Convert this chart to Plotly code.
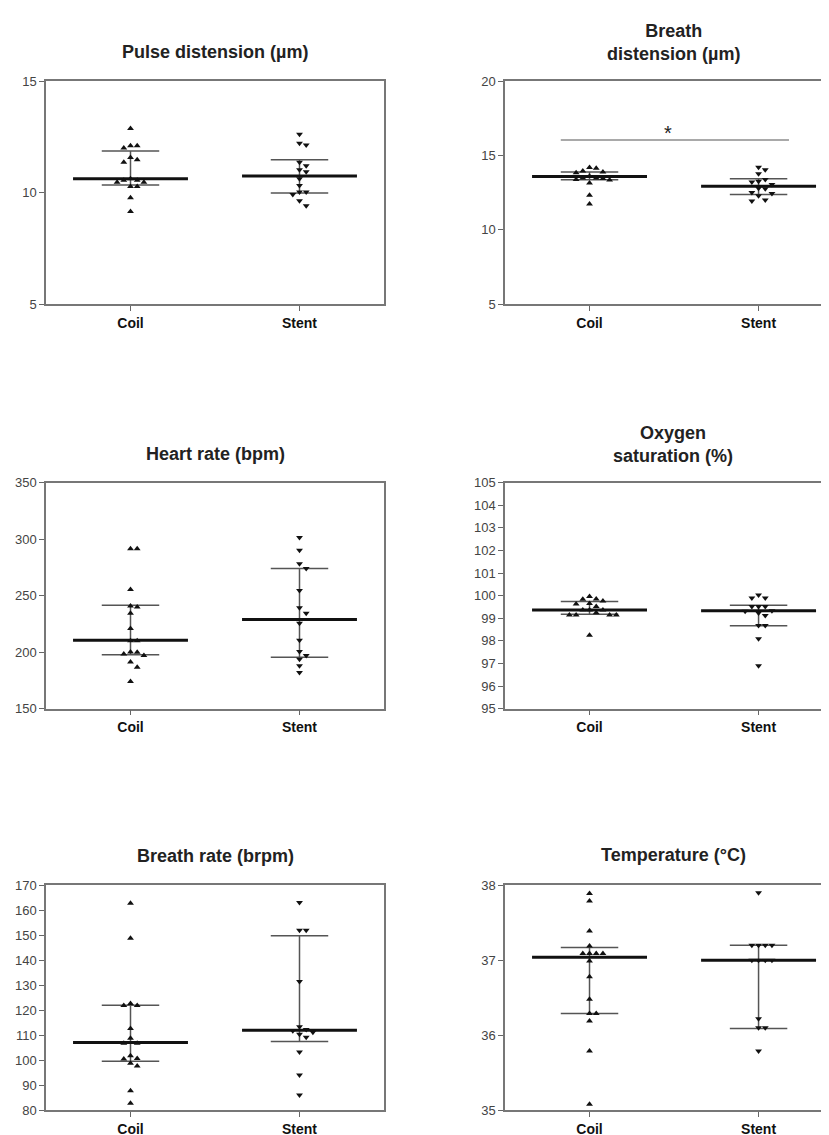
import plotly.graph_objects as go

# ---------------- data ----------------
categories = ["Coil", "Stent"]

titles = ["Pulse distension (µm)", "Breath<br>distension (µm)", "Heart rate (bpm)",
          "Oxygen<br>saturation (%)", "Breath rate (brpm)", "Temperature (°C)"]

pulse_coil = [12.88, 12.1, 12.1, 12.0, 11.58, 11.47, 11.36, 10.62, 10.56, 10.56, 10.47, 10.47, 10.27, 10.27, 9.77, 9.15]
pulse_stent = [12.62, 12.21, 12.14, 11.36, 11.21, 11.03, 10.94, 10.62, 10.32, 10.03, 10.03, 9.91, 9.63, 9.41]
pulse_median = [10.62, 10.75]
pulse_q1 = [10.34, 9.98]
pulse_q3 = [11.87, 11.47]

bdist_coil = [14.19, 14.14, 13.96, 13.88, 13.83, 13.6, 13.48, 13.48, 13.45, 13.39, 13.35, 13.15, 12.33, 11.74]
bdist_stent = [14.21, 14.03, 13.77, 13.39, 13.26, 13.22, 13.04, 12.8, 12.76, 12.51, 12.44, 12.29, 12.0, 11.94]
bdist_median = [13.59, 12.93]
bdist_q1 = [13.37, 12.38]
bdist_q3 = [13.88, 13.44]

heart_coil = [291.6, 291.6, 255.6, 240.9, 240.0, 234.5, 221.0, 210.1, 210.1, 200.1, 199.9, 198.4, 197.1, 191.3, 186.7, 174.0]
heart_stent = [301.6, 290.2, 278.4, 274.0, 254.7, 239.4, 234.5, 225.7, 210.7, 200.7, 197.2, 193.7, 188.1, 182.0]
heart_median = [210.7, 228.9]
heart_q1 = [197.8, 195.5]
heart_q3 = [241.5, 274.0]

oxy_coil = [99.97, 99.85, 99.84, 99.77, 99.66, 99.63, 99.52, 99.37, 99.37, 99.37, 99.25, 99.15, 99.15, 99.15, 99.15, 98.25]
oxy_stent = [100.03, 99.9, 99.9, 99.52, 99.52, 99.52, 99.34, 99.31, 99.24, 99.12, 98.68, 98.68, 98.1, 96.9]
oxy_median = [99.37, 99.33]
oxy_q1 = [99.18, 98.67]
oxy_q3 = [99.75, 99.58]

brate_coil = [162.8, 148.8, 122.7, 121.9, 121.9, 112.7, 108.8, 106.8, 106.8, 101.8, 100.7, 100.5, 98.8, 97.7, 87.8, 82.8]
brate_stent = [163.1, 152.0, 152.0, 131.5, 113.4, 112.3, 111.8, 111.2, 110.4, 109.2, 103.3, 94.1, 86.1]
brate_median = [107.1, 112.0]
brate_q1 = [99.6, 107.5]
brate_q3 = [122.0, 149.8]

temp_coil = [37.89, 37.79, 37.39, 37.19, 37.09, 37.09, 37.09, 37.09, 36.99, 36.78, 36.48, 36.29, 36.29, 36.19, 35.79, 35.08]
temp_stent = [37.9, 37.2, 37.2, 37.2, 37.2, 37.0, 37.0, 37.0, 37.0, 36.22, 36.1, 36.1, 35.79]
temp_median = [37.04, 37.0]
temp_q1 = [36.29, 36.09]
temp_q3 = [37.17, 37.2]

y_ranges = [[5, 15], [5, 20], [150, 350], [95, 105], [80, 170], [35, 38]]
y_ticks = [[5, 10, 15], [5, 10, 15, 20], [150, 200, 250, 300, 350],
           list(range(95, 106)), list(range(80, 171, 10)), [35, 36, 37, 38]]

# significance marker (panel 2)
sig_y = 16.04
sig_star_y = 16.5

# ---------------- layout geometry ----------------
W, H = 829, 1135
FONT = "Liberation Sans, Arial, sans-serif"
col_x = [(38, 376), (497, 829)]
row_y = [(67, 293), (474, 703), (882, 1110)]
x_ranges = [[-0.5, 1.5], [-0.5, 1.464]]
title_y = [[37, 27.5], [445, 435], [852, 851]]
title_x = [207, 665]

panels = [
    (pulse_coil, pulse_stent, pulse_median, pulse_q1, pulse_q3),
    (bdist_coil, bdist_stent, bdist_median, bdist_q1, bdist_q3),
    (heart_coil, heart_stent, heart_median, heart_q1, heart_q3),
    (oxy_coil, oxy_stent, oxy_median, oxy_q1, oxy_q3),
    (brate_coil, brate_stent, brate_median, brate_q1, brate_q3),
    (temp_coil, temp_stent, temp_median, temp_q1, temp_q3),
]


def swarm(vals, center, ypx, xpx, size_px=6.0, col_px=6.7):
    placed = []
    xs = [0.0] * len(vals)
    order = sorted(range(len(vals)), key=lambda i: -vals[i])
    for i in order:
        y = vals[i] * ypx
        chosen = 0.0
        for c in [0, 1, -1, 2, -2, 3, -3, 4, -4, 5, -5]:
            x = c * col_px
            if all((x - px) ** 2 + (y - py) ** 2 >= size_px ** 2 for px, py in placed):
                chosen = x
                break
        placed.append((chosen, y))
        xs[i] = center + chosen / xpx
    return xs


fig = go.Figure()
layout = dict(width=W, height=H, margin=dict(l=0, r=0, t=0, b=0),
              paper_bgcolor="white", plot_bgcolor="white", showlegend=False,
              font=dict(family=FONT, color="#222"))
annotations = []
shapes = []

for p, (coil, stent, med, q1, q3) in enumerate(panels):
    r, c = divmod(p, 2)
    idx = p + 1
    xs_name = "x" if idx == 1 else f"x{idx}"
    ys_name = "y" if idx == 1 else f"y{idx}"
    x0, x1 = col_x[c]
    yt, yb = row_y[r]
    xr = x_ranges[c]
    yr = y_ranges[p]
    xpx = (x1 - x0) / (xr[1] - xr[0])
    ypx = (yb - yt) / (yr[1] - yr[0])

    layout["xaxis" if idx == 1 else f"xaxis{idx}"] = dict(
        domain=[x0 / W, x1 / W], range=xr, anchor=ys_name,
        tickvals=[0, 1], ticktext=[f"<b>{t}</b>" for t in categories],
        ticks="outside", ticklen=5, tickwidth=1.2, tickcolor="#666",
        showline=True, linecolor="#777", linewidth=1.5, mirror=True,
        showgrid=False, zeroline=False,
        tickfont=dict(family=FONT, size=14, color="#111"))
    layout["yaxis" if idx == 1 else f"yaxis{idx}"] = dict(
        domain=[1 - yb / H, 1 - yt / H], range=yr, anchor=xs_name,
        tickvals=y_ticks[p], ticks="outside", ticklen=5, tickwidth=1.2, tickcolor="#666",
        showline=True, linecolor="#777", linewidth=1.5, mirror=(c == 0),
        showgrid=False, zeroline=False,
        tickfont=dict(family=FONT, size=13, color="#444"))

    for g, (vals, sym) in enumerate([(coil, "triangle-up"), (stent, "triangle-down")]):
        # IQR vertical line
        fig.add_trace(go.Scatter(x=[g, g], y=[q1[g], q3[g]], mode="lines",
                                 line=dict(color="#555", width=1.5),
                                 xaxis=xs_name, yaxis=ys_name, hoverinfo="skip"))
        for qv in (q1[g], q3[g]):
            fig.add_trace(go.Scatter(x=[g - 0.17, g + 0.17], y=[qv, qv], mode="lines",
                                     line=dict(color="#555", width=1.5),
                                     xaxis=xs_name, yaxis=ys_name, hoverinfo="skip"))
        fig.add_trace(go.Scatter(x=[g - 0.34, g + 0.34], y=[med[g], med[g]], mode="lines",
                                 line=dict(color="#111", width=3),
                                 xaxis=xs_name, yaxis=ys_name, hoverinfo="skip"))
        fig.add_trace(go.Scatter(x=swarm(vals, g, ypx, xpx), y=vals, mode="markers",
                                 marker=dict(symbol=sym, size=6, color="#111",
                                             line=dict(width=0)),
                                 xaxis=xs_name, yaxis=ys_name, name=categories[g]))

    annotations.append(dict(text=f"<b>{titles[p]}</b>", x=title_x[c] / W,
                            y=1 - title_y[r][c] / H, xref="paper", yref="paper",
                            xanchor="center", yanchor="middle", showarrow=False,
                            font=dict(family=FONT, size=18, color="#222")))

# significance bar on panel 2
shapes.append(dict(type="line", xref="x2", yref="y2", x0=-0.17, x1=1.18,
                   y0=sig_y, y1=sig_y, line=dict(color="#555", width=1.2)))
annotations.append(dict(text="*", x=0.465, y=sig_star_y, xref="x2", yref="y2",
                        showarrow=False, xanchor="center", yanchor="middle",
                        font=dict(family=FONT, size=20, color="#222")))

layout["annotations"] = annotations
layout["shapes"] = shapes
fig.update_layout(**layout)
fig.write_html("out.html")
